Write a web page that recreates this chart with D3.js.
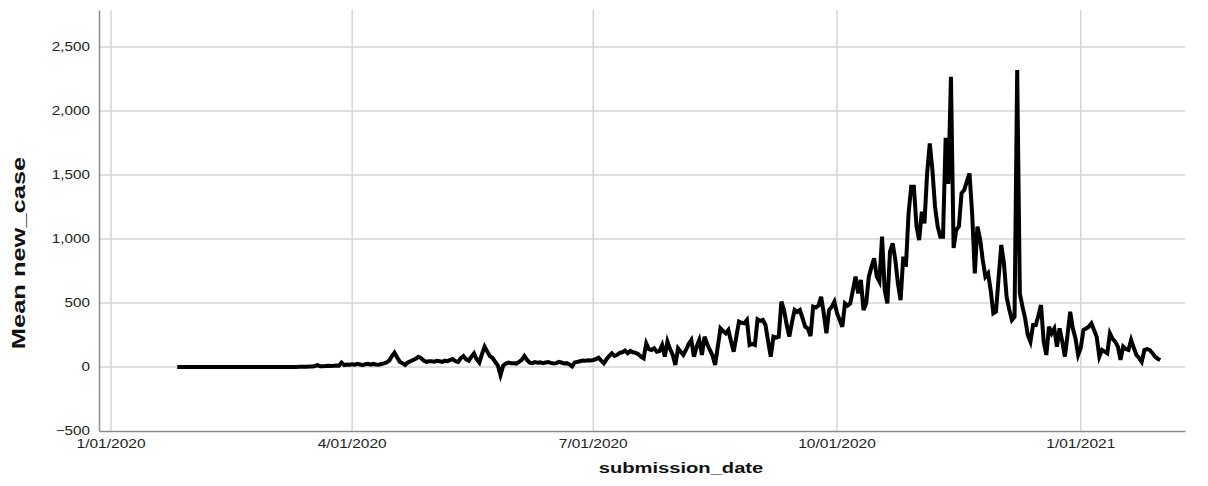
<!DOCTYPE html>
<html>
<head>
<meta charset="utf-8">
<script src="https://cdn.jsdelivr.net/npm/d3@7"></script>
<style>
  body { margin: 0; background: #fff; }
  svg { display: block; }
  .tick-label { font-family: "Liberation Sans", Arial, sans-serif; font-size: 12.5px; fill: #222; }
  .title { font-family: "Liberation Sans", Arial, sans-serif; font-weight: bold; fill: #111; }
</style>
</head>
<body>
<div id="chart"></div>
<script>
// daily mean new cases, series starts 26 Jan 2020
const startDay = Date.UTC(2020, 0, 26);
const jan2020 = [0, 0, 0, 0, 0, 0];
const feb2020 = [0, 0, 0, 0, 0, 0, 0, 0, 0, 0, 0, 0, 0, 0, 0, 0, 0, 0, 0, 0, 0, 0, 0, 0, 0, 0, 0, 0, 0];
const mar2020 = [0, 0, 0, 0, 0, 0, 0, 0, 0, 0, 0, 1, 1, 2, 2, 3, 4, 8, 15, 6, 5, 8, 10, 7, 9, 12, 10, 34, 15, 20, 18];
const apr2020 = [22, 18, 25, 20, 15, 22, 25, 18, 24, 20, 17, 23, 28, 35, 50, 85, 112, 75, 40, 30, 16, 35, 45, 55, 65, 80, 70, 50, 40, 45];
const may2020 = [45, 42, 48, 45, 40, 50, 45, 55, 62, 45, 40, 70, 86, 60, 50, 80, 106, 60, 34, 100, 159, 120, 85, 70, 40, 10, -63, 10, 27, 35, 30];
const jun2020 = [30, 27, 40, 55, 86, 55, 34, 30, 38, 34, 36, 30, 35, 38, 32, 27, 30, 40, 35, 27, 30, 20, 5, 35, 40, 45, 50, 48, 52, 50];
const jul2020 = [55, 62, 73, 50, 29, 60, 85, 107, 86, 95, 110, 115, 128, 107, 125, 115, 110, 101, 80, 68, 185, 140, 133, 146, 120, 125, 172, 81, 198, 140, 94];
const aug2020 = [16, 146, 120, 94, 133, 180, 211, 81, 159, 211, 94, 237, 180, 133, 90, 16, 159, 302, 280, 263, 289, 200, 120, 237, 354, 345, 341, 367, 172, 180, 172];
const sep2020 = [372, 360, 367, 328, 200, 81, 237, 230, 237, 510, 445, 330, 237, 350, 445, 430, 445, 380, 315, 300, 242, 471, 465, 480, 549, 419, 263, 445, 470, 510];
const oct2020 = [420, 367, 315, 497, 480, 497, 600, 706, 575, 680, 445, 497, 706, 780, 849, 706, 667, 1018, 600, 497, 901, 966, 836, 650, 523, 862, 784, 1200, 1409, 1409, 1100];
const nov2020 = [992, 1213, 1122, 1513, 1747, 1539, 1250, 1096, 1018, 1018, 1790, 1430, 2268, 930, 1070, 1100, 1357, 1383, 1450, 1513, 1200, 732, 1096, 1000, 836, 706, 732, 600, 419, 432];
const dec2020 = [700, 953, 810, 549, 450, 367, 393, 2320, 575, 471, 380, 250, 198, 328, 328, 400, 484, 198, 94, 315, 263, 300, 159, 302, 200, 81, 250, 432, 300, 224, 94];
const jan2021 = [150, 289, 300, 315, 341, 290, 237, 81, 133, 120, 107, 263, 220, 198, 159, 55, 159, 140, 133, 211, 150, 94, 70, 40, 133, 140, 133, 110, 81, 65, 55];

const yTicks = [-500, 0, 500, 1000, 1500, 2000, 2500];
const xTickDates = [Date.UTC(2020, 0, 1), Date.UTC(2020, 3, 1), Date.UTC(2020, 6, 1), Date.UTC(2020, 9, 1), Date.UTC(2021, 0, 1)];
const xTickLabels = ["1/01/2020", "4/01/2020", "7/01/2020", "10/01/2020", "1/01/2021"];

const values = [].concat(jan2020, feb2020, mar2020, apr2020, may2020, jun2020,
  jul2020, aug2020, sep2020, oct2020, nov2020, dec2020, jan2021);
const data = values.map(function(v, i) {
  return { date: new Date(startDay + i * 864e5), value: v };
});

const width = 1208, height = 486;
const plot = { left: 99, right: 1185, top: 10, bottom: 431 };

const svg = d3.select("#chart")
  .append("svg")
    .attr("width", width)
    .attr("height", height);

// scales
const xScale = d3.scaleUtc()
  .domain([new Date(Date.UTC(2019, 11, 27, 11)), new Date(Date.UTC(2021, 1, 9, 8))])
  .range([plot.left, plot.right]);
const yScale = d3.scaleLinear()
  .domain([-500, 2789])
  .range([plot.bottom, plot.top]);

// grid lines
svg.append("g")
  .selectAll("line")
  .data(yTicks.slice(1))
  .join("line")
    .attr("x1", plot.left).attr("x2", plot.right)
    .attr("y1", d => yScale(d)).attr("y2", d => yScale(d))
    .attr("stroke", "#d6d6d6").attr("stroke-width", 1.5);
svg.append("g")
  .selectAll("line")
  .data(xTickDates)
  .join("line")
    .attr("x1", d => xScale(new Date(d))).attr("x2", d => xScale(new Date(d)))
    .attr("y1", plot.top).attr("y2", plot.bottom)
    .attr("stroke", "#d6d6d6").attr("stroke-width", 1.5);

// axes (domain lines only, labels drawn by hand to allow stretch)
svg.append("g")
  .attr("transform", `translate(0, ${plot.bottom})`)
  .call(d3.axisBottom(xScale).tickValues([]).tickSizeOuter(0))
  .call(g => g.select(".domain").attr("stroke", "#8c8c8c").attr("stroke-width", 1.5));
svg.append("g")
  .attr("transform", `translate(${plot.left}, 0)`)
  .call(d3.axisLeft(yScale).tickValues([]).tickSizeOuter(0))
  .call(g => g.select(".domain").attr("stroke", "#8c8c8c").attr("stroke-width", 1.5));

// tick labels
svg.append("g")
  .selectAll("text")
  .data(yTicks)
  .join("text")
    .attr("class", "tick-label")
    .attr("text-anchor", "end")
    .attr("dy", "0.35em")
    .attr("transform", d => `translate(90, ${yScale(d)}) scale(1.22, 1)`)
    .text(d => d3.format(",")(d));
svg.append("g")
  .selectAll("text")
  .data(xTickDates)
  .join("text")
    .attr("class", "tick-label")
    .attr("text-anchor", "middle")
    .attr("transform", d => `translate(${xScale(new Date(d))}, 448) scale(1.24, 1)`)
    .text((d, i) => xTickLabels[i]);

// the line
svg.append("path")
  .datum(data)
    .attr("fill", "none")
    .attr("stroke", "#000")
    .attr("stroke-width", 4)
    .attr("d", d3.line()
      .x(d => xScale(d.date))
      .y(d => yScale(d.value)));

// axis titles
svg.append("text")
    .attr("class", "title")
    .attr("text-anchor", "middle")
    .attr("font-size", 15.5)
    .attr("transform", "translate(681, 473) scale(1.3, 1)")
  .text("submission_date");
svg.append("text")
    .attr("class", "title")
    .attr("text-anchor", "middle")
    .attr("font-size", 19)
    .attr("transform", "translate(25, 253) rotate(-90) scale(1.34, 1)")
  .text("Mean new_case");
</script>
</body>
</html>
